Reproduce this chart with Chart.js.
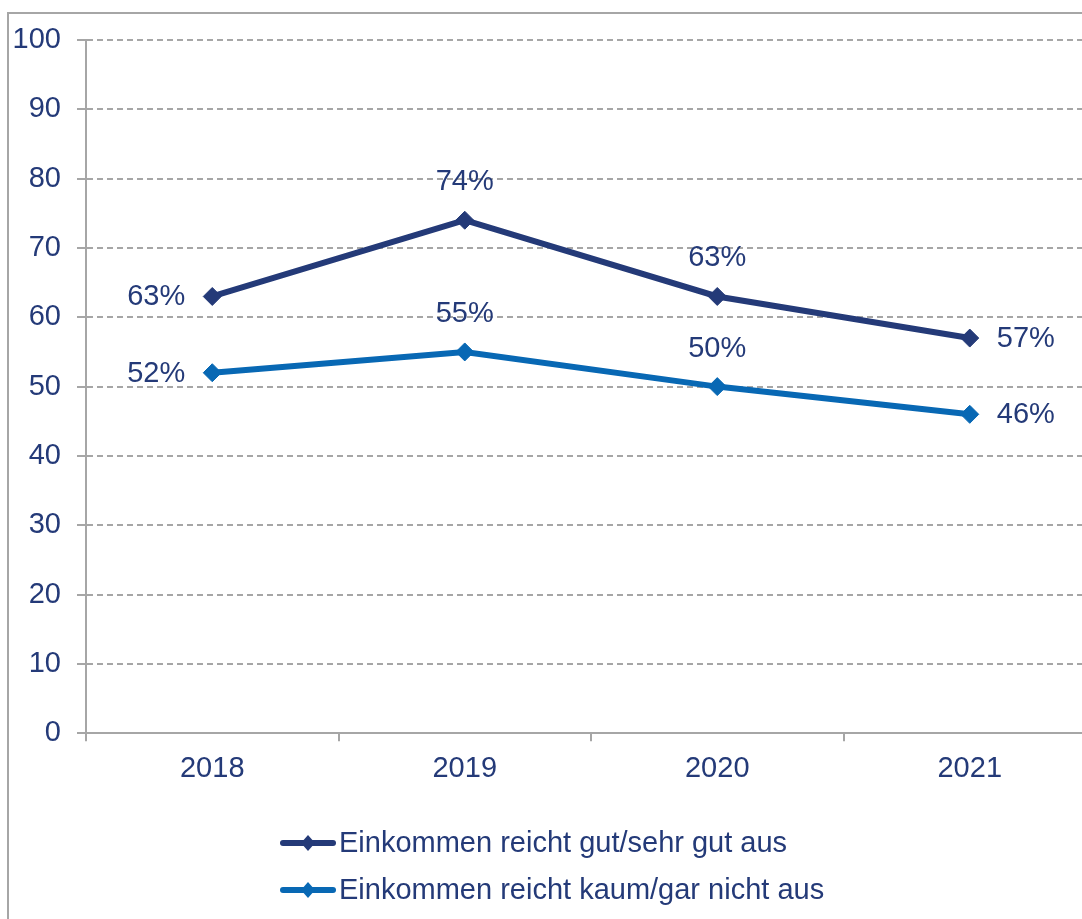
<!DOCTYPE html>
<html>
<head>
<meta charset="utf-8">
<script src="https://cdn.jsdelivr.net/npm/chart.js@4.4.0/dist/chart.umd.min.js"></script>
<style>
  html, body { margin: 0; padding: 0; background: #fff; overflow: hidden; }
  #frame { position: absolute; left: 7px; top: 12px; width: 2000px; height: 2000px;
           border-left: 2px solid #a6a6a6; border-top: 2px solid #a6a6a6; }
  #wrap { position: absolute; left: 0; top: 0; width: 1106px; height: 919px; }
</style>
</head>
<body>
<div id="frame"></div>
<div id="wrap"><canvas id="incomeChart" width="1106" height="919"></canvas></div>
<script>
var years = ["2018", "2019", "2020", "2021"];
var gutValues = [63, 74, 63, 57];
var kaumValues = [52, 55, 50, 46];
var seriesNames = ["Einkommen reicht gut/sehr gut aus", "Einkommen reicht kaum/gar nicht aus"];

var navy = "#243a78";
var blue = "#0868b4";
var textColor = "#243a78";
var gridColor = "#a6a6a6";
var font = '"Liberation Sans", Arial, sans-serif';

// where each value label sits relative to its point
var labelPos = ["left", "top", "top", "right"];

var valueLabels = {
    id: "valueLabels",
    afterDatasetsDraw: function(chart) {
        var ctx = chart.ctx;
        ctx.save();
        ctx.font = "29px " + font;
        ctx.fillStyle = textColor;
        ctx.textBaseline = "middle";
        chart.data.datasets.forEach(function(ds, i) {
            chart.getDatasetMeta(i).data.forEach(function(pt, j) {
                var txt = ds.data[j] + "%";
                var p = labelPos[j];
                if (p == "left") {
                    ctx.textAlign = "right";
                    ctx.fillText(txt, pt.x - 27, pt.y + 1);
                } else if (p == "right") {
                    ctx.textAlign = "left";
                    ctx.fillText(txt, pt.x + 27, pt.y + 1);
                } else {
                    ctx.textAlign = "center";
                    ctx.fillText(txt, pt.x, pt.y - 38);
                }
            });
        });
        ctx.restore();
    }
};

var lineLegend = {
    id: "lineLegend",
    afterDraw: function(chart) {
        var ctx = chart.ctx;
        ctx.save();
        chart.data.datasets.forEach(function(ds, i) {
            var y = 843 + i * 47;
            ctx.strokeStyle = ds.borderColor;
            ctx.lineWidth = 6;
            ctx.lineCap = "round";
            ctx.beginPath();
            ctx.moveTo(283, y);
            ctx.lineTo(333, y);
            ctx.stroke();
            ctx.fillStyle = ds.borderColor;
            ctx.beginPath();
            ctx.moveTo(308, y - 8);
            ctx.lineTo(315, y);
            ctx.lineTo(308, y + 8);
            ctx.lineTo(301, y);
            ctx.closePath();
            ctx.fill();
            ctx.font = "29px " + font;
            ctx.fillStyle = textColor;
            ctx.textAlign = "left";
            ctx.textBaseline = "middle";
            ctx.fillText(ds.label, 339, y + 1);
        });
        ctx.restore();
    }
};

var ctx = document.getElementById("incomeChart");
var chart = new Chart(ctx, {
    type: "line",
    data: {
        labels: years,
        datasets: [
            {
                label: seriesNames[0],
                data: gutValues,
                borderColor: navy,
                backgroundColor: navy,
                borderWidth: 6,
                pointStyle: "rectRot",
                pointRadius: 9,
                pointBorderWidth: 1,
                pointBackgroundColor: navy,
                tension: 0,
                fill: false
            },
            {
                label: seriesNames[1],
                data: kaumValues,
                borderColor: blue,
                backgroundColor: blue,
                borderWidth: 6,
                pointStyle: "rectRot",
                pointRadius: 9,
                pointBorderWidth: 1,
                pointBackgroundColor: blue,
                tension: 0,
                fill: false
            }
        ]
    },
    options: {
        responsive: false,
        animation: false,
        layout: { padding: { top: 40, left: 14, right: 4, bottom: 123 } },
        plugins: {
            legend: { display: false },
            tooltip: { enabled: false }
        },
        scales: {
            x: {
                offset: true,
                grid: { offset: true, drawOnChartArea: false, tickLength: 8, color: gridColor, lineWidth: 2 },
                border: { color: gridColor, width: 2 },
                ticks: { color: textColor, padding: 10, font: { size: 29, family: font } }
            },
            y: {
                min: 0,
                max: 100,
                afterFit: function(scale) { scale.width = 72; },
                ticks: { stepSize: 10, color: textColor, padding: 16, font: { size: 29, family: font } },
                grid: { color: gridColor, lineWidth: 2, tickLength: 9 },
                border: { color: gridColor, width: 2, dash: [6, 4] }
            }
        }
    },
    plugins: [valueLabels, lineLegend]
});
</script>
</body>
</html>
